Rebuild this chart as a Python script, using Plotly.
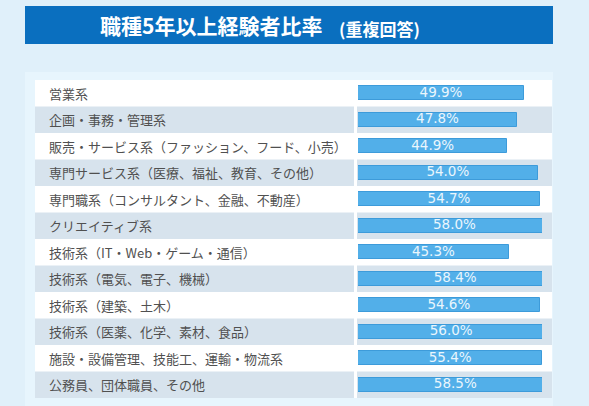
import plotly.graph_objects as go

categories = [
    "営業系",
    "企画・事務・管理系",
    "販売・サービス系（ファッション、フード、小売）",
    "専門サービス系（医療、福祉、教育、その他）",
    "専門職系（コンサルタント、金融、不動産）",
    "クリエイティブ系",
    "技術系（IT・Web・ゲーム・通信）",
    "技術系（電気、電子、機械）",
    "技術系（建築、土木）",
    "技術系（医薬、化学、素材、食品）",
    "施設・設備管理、技能工、運輸・物流系",
    "公務員、団体職員、その他",
]
values = [49.9, 47.8, 44.9, 54.0, 54.7, 58.0, 45.3, 58.4, 54.6, 56.0, 55.4, 58.5]
value_labels = [f"{v:.1f}%" for v in values]
title_main = "職種5年以上経験者比率"
title_sub = "(重複回答)"

W, H = 589, 406
def px(x):
    return x / W
def py(y):
    return 1 - y / H

JP = "Noto Sans CJK JP"
BG = "#e0f0fa"

fig = go.Figure()
fig.add_trace(go.Bar(
    y=categories, x=values, orientation="h", width=0.52,
    marker=dict(color="#52afe9", line=dict(color="#3d9bda", width=1)),
    hoverinfo="skip", showlegend=False,
))
fig.add_trace(go.Scatter(
    y=categories, x=[v / 2 for v in values], mode="text", text=value_labels,
    textposition="middle center",
    textfont=dict(family="DejaVu Sans, Verdana, sans-serif", size=13.5, color="#eaf6fd"),
    hoverinfo="skip", showlegend=False, cliponaxis=False,
))

shapes = []
shapes.append(dict(type="rect", xref="paper", yref="paper", x0=px(25), x1=px(553), y0=0, y1=py(72),
                   fillcolor="#e7f5fd", line=dict(width=0), layer="below"))
shapes.append(dict(type="rect", xref="paper", yref="paper", x0=px(25), x1=px(553), y0=py(44), y1=py(6),
                   fillcolor="#0a6fbf", line=dict(width=0), layer="below"))
shapes.append(dict(type="rect", xref="paper", yref="paper", x0=px(35), x1=px(552), y0=py(398), y1=py(80),
                   fillcolor="#ffffff", line=dict(width=0), layer="below"))
for i in range(len(categories)):
    if i % 2 == 1:
        for (a, b) in [(35, 354), (357, 552)]:
            shapes.append(dict(type="rect", xref="paper", yref="y", x0=px(a), x1=px(b),
                               y0=i - 0.5, y1=i + 0.5, fillcolor="#d7e3ed",
                               line=dict(width=0), layer="below"))

annotations = []
for c in categories:
    annotations.append(dict(xref="paper", yref="y", x=px(47), y=c, text=c, showarrow=False,
                            xanchor="left", yanchor="middle",
                            font=dict(family=JP, size=13, color="#505050")))
annotations.append(dict(xref="paper", yref="paper", x=px(98), y=py(25), text="<b>" + title_main + "</b>",
                        showarrow=False, xanchor="left", yanchor="middle",
                        font=dict(family=JP, size=21, color="#ffffff")))
annotations.append(dict(xref="paper", yref="paper", x=px(337), y=py(28), text="<b>" + title_sub + "</b>",
                        showarrow=False, xanchor="left", yanchor="middle",
                        font=dict(family=JP, size=17, color="#ffffff")))

fig.update_layout(
    width=W, height=H,
    margin=dict(l=0, r=0, t=0, b=0),
    paper_bgcolor=BG,
    plot_bgcolor="rgba(0,0,0,0)",
    shapes=shapes,
    annotations=annotations,
    bargap=0,
    xaxis=dict(domain=[px(358), px(542)], range=[0, 55.3], visible=False, fixedrange=True),
    yaxis=dict(domain=[py(398), py(80)], type="category", range=[11.5, -0.5], visible=False,
               fixedrange=True),
)

fig.write_html(
    "out.html",
    config={"displayModeBar": False},
    post_script="document.body.style.margin='0';document.body.style.overflow='hidden';"
                "document.body.style.background='" + BG + "';",
)
